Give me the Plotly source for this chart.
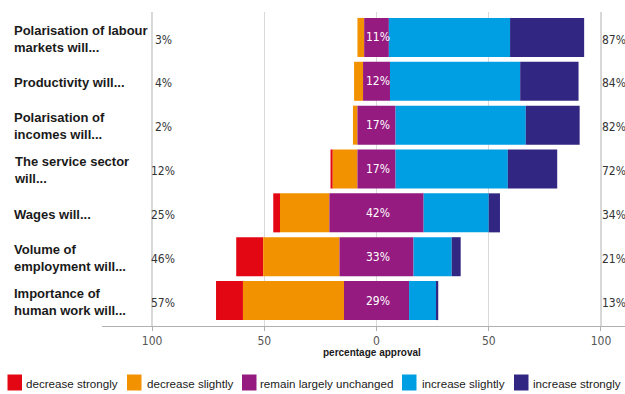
import numpy as np
import plotly.graph_objects as go

# ---------------- data ----------------
categories = [
    "Polarisation of labour<br>markets will...",
    "Productivity will...",
    "Polarisation of<br>incomes will...",
    "The service sector<br>will...",
    "Wages will...",
    "Volume of<br>employment will...",
    "Importance of<br>human work will...",
]
decrease_strongly = [0, 0, 0, 1, 3, 12, 12]
decrease_slightly = [3, 4, 2, 11, 22, 34, 45]
remain_unchanged = [11, 12, 17, 17, 42, 33, 29]
increase_slightly = [54, 58, 58, 50, 29, 17, 12]
increase_strongly = [33, 26, 24, 22, 5, 4, 1]

series_names = ["decrease strongly", "decrease slightly", "remain largely unchanged",
                "increase slightly", "increase strongly"]
series_colors = ["#e30613", "#f39200", "#951b81", "#009fe3", "#312783"]

tick_values = [-100, -50, 0, 50, 100]
tick_labels = ["100", "50", "0", "50", "100"]

# ---------------- geometry helpers ----------------
W, H = 625, 394
ML, MR, MT, MB = 102, 0, 12, 68
PW, PH = W - ML - MR, H - MT - MB


def px_x(px):
    return (px - ML) / PW


def px_y(py):
    return (H - MB - py) / PH


NARROW = "Liberation Sans Narrow, Arial Narrow, DejaVu Sans Condensed, Liberation Sans, sans-serif"
SANS = "Liberation Sans, Arial, Helvetica, sans-serif"

idx = np.arange(len(categories))
ds = np.array(decrease_strongly, float)
dl = np.array(decrease_slightly, float)
nu = np.array(remain_unchanged, float)
il = np.array(increase_slightly, float)
ist = np.array(increase_strongly, float)

widths = [ds, dl, nu, il, ist]
bases = [-nu / 2 - dl - ds, -nu / 2 - dl, -nu / 2, nu / 2, nu / 2 + il]

fig = go.Figure()
for name, color, w, b in zip(series_names, series_colors, widths, bases):
    fig.add_trace(go.Bar(
        y=idx, x=w, base=b, orientation="h", name=name,
        marker=dict(color=color, line=dict(width=0)),
        width=0.89, showlegend=False,
        hovertemplate=name + ": %{x}%<extra></extra>",
    ))

annotations = []
# category labels
for i, cat in enumerate(categories):
    annotations.append(dict(
        text="<b>" + cat + "</b>", x=px_x(12), xref="paper", y=i + 0.03, yref="y",
        xanchor="left", yanchor="middle", align="left", showarrow=False,
        font=dict(family=SANS, size=13, color="#1a1a1a"),
    ))
# totals
dec_tot = ds + dl
inc_tot = il + ist
for i in idx:
    annotations.append(dict(
        text=f"{int(dec_tot[i])}%", x=-95, xref="x", y=i + 0.05, yref="y",
        xanchor="center", yanchor="middle", showarrow=False,
        font=dict(family=NARROW, size=12, color="#333333"),
    ))
    annotations.append(dict(
        text=f"{int(inc_tot[i])}%", x=106, xref="x", y=i + 0.05, yref="y",
        xanchor="center", yanchor="middle", showarrow=False,
        font=dict(family=NARROW, size=12, color="#333333"),
    ))
    annotations.append(dict(
        text=f"{int(nu[i])}%", x=0.5, xref="x", y=i, yref="y",
        xanchor="center", yanchor="middle", showarrow=False,
        font=dict(family=NARROW, size=12, color="#ffffff"),
    ))
# axis title
annotations.append(dict(
    text="<b>percentage approval</b>", x=px_x(372), xref="paper", y=px_y(352), yref="paper",
    xanchor="center", yanchor="middle", showarrow=False,
    font=dict(family=SANS, size=10, color="#1a1a1a"),
))

# custom legend
shapes = []
legend_sq_x = [7.5, 127, 242, 402, 514]
legend_txt_x = [24, 145, 258, 420, 531]
for name, color, sx, tx in zip(series_names, series_colors, legend_sq_x, legend_txt_x):
    shapes.append(dict(
        type="rect", xref="paper", yref="paper",
        x0=px_x(sx), x1=px_x(sx + 14.5), y0=px_y(390.5), y1=px_y(374.5),
        fillcolor=color, line=dict(width=0),
    ))
    annotations.append(dict(
        text=name, x=px_x(tx), xref="paper", y=px_y(383), yref="paper",
        xanchor="left", yanchor="middle", showarrow=False,
        font=dict(family=SANS, size=11.6, color="#1a1a1a"),
    ))

# darker outer reference lines at +-100
for v in (tick_values[0], tick_values[-1]):
    shapes.append(dict(
        type="line", xref="x", yref="paper", x0=v, x1=v, y0=0, y1=1,
        line=dict(color="#a8a8a8", width=1), layer="below",
    ))

fig.update_layout(
    width=W, height=H,
    margin=dict(l=ML, r=MR, t=MT, b=MB),
    paper_bgcolor="white", plot_bgcolor="white",
    barmode="overlay",
    annotations=annotations, shapes=shapes,
    showlegend=False,
    xaxis=dict(
        range=[-122.3, 110.7], tickvals=tick_values, ticktext=tick_labels,
        showgrid=True, gridcolor="#d9d9d9", gridwidth=1, zeroline=False,
        showline=True, linecolor="#b0b0b0", linewidth=1,
        ticks="outside", ticklen=4, tickcolor="#b0b0b0",
        tickfont=dict(family=NARROW, size=12, color="#555555"),
        fixedrange=True,
    ),
    yaxis=dict(
        range=[6.58, -0.58], visible=False, fixedrange=True,
    ),
)

fig.write_html(
    "out.html",
    config={"displayModeBar": False},
    post_script="document.body.style.margin='0';document.body.style.overflow='hidden';",
)
